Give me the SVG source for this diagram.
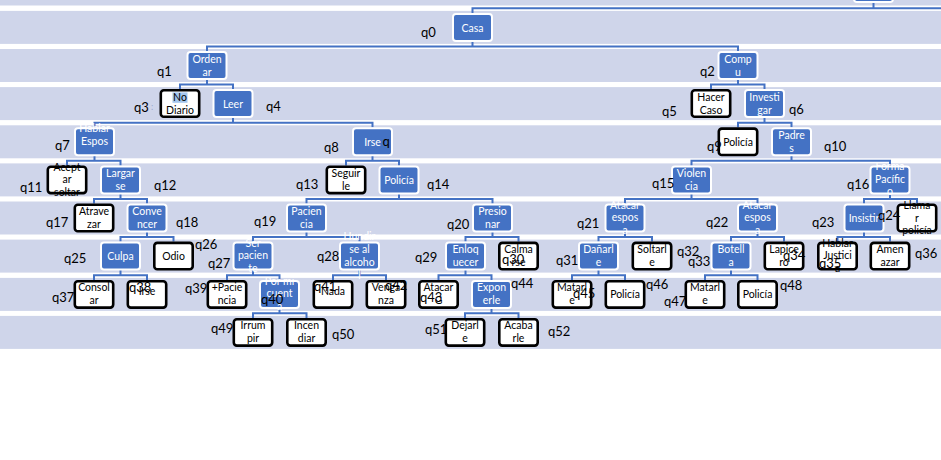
<svg xmlns="http://www.w3.org/2000/svg" width="941" height="460" viewBox="0 0 941 460">
<style>
  .band{fill:#CFD5EA}
  .nb rect{fill:#4472C4;stroke:#fff;stroke-width:2}
  .nw rect{fill:#fff;stroke:#000;stroke-width:2.6}
  .nw rect.hl{fill:#A5C6EE;stroke:none}
  text{font-family:Lato,"Liberation Sans",sans-serif}
  .t{font-size:10.5px;text-anchor:middle}
  .nb .t{fill:#fff}
  .nw .t{fill:#000}
  .q{font-size:13px;fill:#000}
  .c{fill:none;stroke:#4472C4;stroke-width:2}
</style>
<rect width="941" height="460" fill="#fff"/>
<!-- table rows -->
<g id="rows">
  <rect class="band" x="0" y="0" width="941" height="5.5"/>
  <rect class="band" x="0" y="10.9" width="941" height="33"/>
  <rect class="band" x="0" y="49" width="941" height="33"/>
  <rect class="band" x="0" y="87.1" width="941" height="33"/>
  <rect class="band" x="0" y="125.3" width="941" height="33"/>
  <rect class="band" x="0" y="163.4" width="941" height="33"/>
  <rect class="band" x="0" y="201.5" width="941" height="33"/>
  <rect class="band" x="0" y="239.6" width="941" height="33"/>
  <rect class="band" x="0" y="277.9" width="941" height="33"/>
  <rect class="band" x="0" y="315.9" width="941" height="33"/>
</g>
<!-- connectors -->
<g id="connectors" class="c">
  <path d="M873.5 2 V8.3 M941 8.3 H472.5 V13"/>
  <path d="M472.5 41 V46.4 M207 51 V46.4 H738 V51"/>
  <path d="M207 79 V84.5 M180 89 V84.5 H233 V89"/>
  <path d="M738 79 V84.5 M711 89 V84.5 H764.5 V89"/>
  <path d="M233 117 V122.7 M94.5 127.3 V122.7 H372.5 V127.3"/>
  <path d="M764.5 117 V122.7 M738 127.3 V122.7 H791.5 V127.3"/>
  <path d="M94.5 155 V160.8 M67 165.4 V160.8 H120.5 V165.4"/>
  <path d="M372.5 155 V160.8 M346 165.4 V160.8 H399 V165.4"/>
  <path d="M791.5 155 V160.8 M691.5 165.4 V160.8 H890 V165.4"/>
  <path d="M120.5 193 V198.9 M94 203.5 V198.9 H147 V203.5"/>
  <path d="M399 193 V198.9 M306.5 203.5 V198.9 H492.5 V203.5"/>
  <path d="M691.5 193 V198.9 M625 203.5 V198.9 H757.5 V203.5"/>
  <path d="M890 193 V198.9 M864 203.5 V198.9 H917 V203.5"/>
  <path d="M147 231.5 V237 M120.5 241.6 V237 H173.5 V241.6"/>
  <path d="M306.5 231.5 V237 M253 241.6 V237 H359.5 V241.6"/>
  <path d="M492.5 231.5 V237 M465.5 241.6 V237 H518.5 V241.6"/>
  <path d="M625 231.5 V237 M598.5 241.6 V237 H652 V241.6"/>
  <path d="M757.5 231.5 V237 M731 241.6 V237 H784 V241.6"/>
  <path d="M864 231.5 V237 M837.5 241.6 V237 H890 V241.6"/>
  <path d="M120.5 269.5 V275.3 M94 279.9 V275.3 H147 V279.9"/>
  <path d="M253 269.5 V275.3 M227 279.9 V275.3 H279.5 V279.9"/>
  <path d="M359.5 269.5 V275.3 M333 279.9 V275.3 H386 V279.9"/>
  <path d="M465.5 269.5 V275.3 M438.5 279.9 V275.3 H491.5 V279.9"/>
  <path d="M598.5 269.5 V275.3 M572 279.9 V275.3 H625 V279.9"/>
  <path d="M731 269.5 V275.3 M705 279.9 V275.3 H757.5 V279.9"/>
  <path d="M279.5 308 V313.3 M253 317.9 V313.3 H306.5 V317.9"/>
  <path d="M491.5 308 V313.3 M465 317.9 V313.3 H518.5 V317.9"/>
</g>
<!-- nodes -->
<g id="nodes">
  <g id="n-top" class="nb" transform="translate(853,-26)"><rect x="1" y="1" width="39" height="27" rx="3"/></g>
  <g id="n-casa" class="nb" transform="translate(452,13)"><rect x="1" y="1" width="39" height="27" rx="3"/><text class="t" x="20.5" y="18.5">Casa</text></g>

  <g id="n-ordenar" class="nb" transform="translate(186.5,51)"><rect x="1" y="1" width="39" height="27" rx="3"/><text class="t"><tspan x="20.5" y="11.5">Orden</tspan><tspan x="20.5" y="24.5">ar</tspan></text></g>
  <g id="n-compu" class="nb" transform="translate(717.5,51)"><rect x="1" y="1" width="39" height="27" rx="3"/><text class="t"><tspan x="20.5" y="11.5">Comp</tspan><tspan x="20.5" y="24.5">u</tspan></text></g>

  <g id="n-nodiario" class="nw" transform="translate(159.5,89)"><rect x="1.3" y="1.3" width="38.4" height="26.4" rx="3"/><rect class="hl" x="13" y="3.4" width="15" height="10.4"/><text class="t"><tspan x="20.5" y="11.5">No</tspan><tspan x="20.5" y="24.5">Diario</tspan></text></g>
  <g id="n-leer" class="nb" transform="translate(212.5,89)"><rect x="1" y="1" width="39" height="27" rx="3"/><text class="t" x="20.5" y="18.5">Leer</text></g>
  <g id="n-hacercaso" class="nw" transform="translate(690.5,89)"><rect x="1.3" y="1.3" width="38.4" height="26.4" rx="3"/><text class="t"><tspan x="20.5" y="11.5">Hacer</tspan><tspan x="20.5" y="24.5">Caso</tspan></text></g>
  <g id="n-investigar" class="nb" transform="translate(744,89)"><rect x="1" y="1" width="39" height="27" rx="3"/><text class="t"><tspan x="20.5" y="11.5">Investi</tspan><tspan x="20.5" y="24.5">gar</tspan></text></g>

  <g id="n-hablaresposa" class="nb" transform="translate(74,127.3)"><rect x="1" y="1" width="39" height="27" rx="3"/><text class="t"><tspan x="20.5" y="5">Hablar</tspan><tspan x="20.5" y="17.5">Espos</tspan></text></g>
  <g id="n-irseq" class="nb" transform="translate(352,127.3)"><rect x="1" y="1" width="39" height="27" rx="3"/><text class="t" x="20.5" y="18.5">Irse</text><text x="30.5" y="18.5" class="q">q</text></g>
  <g id="n-policia9" class="nw" transform="translate(717.5,127.3)"><rect x="1.3" y="1.3" width="38.4" height="26.4" rx="3"/><text class="t" x="20.5" y="18.5">Policía</text></g>
  <g id="n-padres" class="nb" transform="translate(771,127.3)"><rect x="1" y="1" width="39" height="27" rx="3"/><text class="t"><tspan x="20.5" y="11.5">Padre</tspan><tspan x="20.5" y="24.5">s</tspan></text></g>

  <g id="n-aceptar" class="nw" transform="translate(46.5,165.4)"><rect x="1.3" y="1.3" width="38.4" height="26.4" rx="3"/><text class="t"><tspan x="20.5" y="5.5">Acept</tspan><tspan x="20.5" y="18">ar</tspan><tspan x="20.5" y="30.5">soltar</tspan></text></g>
  <g id="n-largarse" class="nb" transform="translate(100,165.4)"><rect x="1" y="1" width="39" height="27" rx="3"/><text class="t"><tspan x="20.5" y="11.5">Largar</tspan><tspan x="20.5" y="24.5">se</tspan></text></g>
  <g id="n-seguirle" class="nw" transform="translate(325.5,165.4)"><rect x="1.3" y="1.3" width="38.4" height="26.4" rx="3"/><text class="t"><tspan x="20.5" y="11.5">Seguir</tspan><tspan x="20.5" y="24.5">le</tspan></text></g>
  <g id="n-policia14" class="nb" transform="translate(378.5,165.4)"><rect x="1" y="1" width="39" height="27" rx="3"/><text class="t" x="20.5" y="18.5">Policía</text></g>
  <g id="n-violencia" class="nb" transform="translate(671,165.4)"><rect x="1" y="1" width="39" height="27" rx="3"/><text class="t"><tspan x="20.5" y="11.5">Violen</tspan><tspan x="20.5" y="24.5">cia</tspan></text></g>
  <g id="n-formapacifico" class="nb" transform="translate(869.5,165.4)"><rect x="1" y="1" width="39" height="27" rx="3"/><text class="t"><tspan x="20.5" y="5">Forma</tspan><tspan x="20.5" y="17.5">Pacífic</tspan><tspan x="20.5" y="30">o</tspan></text></g>

  <g id="n-atravezar" class="nw" transform="translate(73.5,203.5)"><rect x="1.3" y="1.3" width="38.4" height="26.4" rx="3"/><text class="t"><tspan x="20.5" y="11.5">Atrave</tspan><tspan x="20.5" y="24.5">zar</tspan></text></g>
  <g id="n-convencer" class="nb" transform="translate(126.5,203.5)"><rect x="1" y="1" width="39" height="27" rx="3"/><text class="t"><tspan x="20.5" y="11.5">Conve</tspan><tspan x="20.5" y="24.5">ncer</tspan></text></g>
  <g id="n-paciencia" class="nb" transform="translate(286,203.5)"><rect x="1" y="1" width="39" height="27" rx="3"/><text class="t"><tspan x="20.5" y="11.5">Pacien</tspan><tspan x="20.5" y="24.5">cia</tspan></text></g>
  <g id="n-presionar" class="nb" transform="translate(472,203.5)"><rect x="1" y="1" width="39" height="27" rx="3"/><text class="t"><tspan x="20.5" y="11.5">Presio</tspan><tspan x="20.5" y="24.5">nar</tspan></text></g>
  <g id="n-atacar21" class="nb" transform="translate(604.5,203.5)"><rect x="1" y="1" width="39" height="27" rx="3"/><text class="t"><tspan x="20.5" y="5">Atacar</tspan><tspan x="20.5" y="17.5">espos</tspan><tspan x="20.5" y="30">a</tspan></text></g>
  <g id="n-atacar22" class="nb" transform="translate(737,203.5)"><rect x="1" y="1" width="39" height="27" rx="3"/><text class="t"><tspan x="20.5" y="5">Atacar</tspan><tspan x="20.5" y="17.5">espos</tspan><tspan x="20.5" y="30">a</tspan></text></g>
  <g id="n-insistir" class="nb" transform="translate(843.5,203.5)"><rect x="1" y="1" width="39" height="27" rx="3"/><text class="t" x="20.5" y="18.5">Insistir</text></g>
  <g id="n-llamar" class="nw" transform="translate(896.5,203.5)"><rect x="1.3" y="1.3" width="38.4" height="26.4" rx="3"/><text class="t"><tspan x="20.5" y="5">Llama</tspan><tspan x="20.5" y="18">r</tspan><tspan x="20.5" y="30.5">policía</tspan></text></g>

  <g id="n-culpa" class="nb" transform="translate(100,241.6)"><rect x="1" y="1" width="39" height="27" rx="3"/><text class="t" x="20.5" y="18.5">Culpa</text></g>
  <g id="n-odio" class="nw" transform="translate(153,241.6)"><rect x="1.3" y="1.3" width="38.4" height="26.4" rx="3"/><text class="t" x="20.5" y="18.5">Odio</text></g>
  <g id="n-serpaciente" class="nb" transform="translate(232.5,241.6)"><rect x="1" y="1" width="39" height="27" rx="3"/><text class="t"><tspan x="20.5" y="5">Ser</tspan><tspan x="20.5" y="17.5">pacien</tspan><tspan x="20.5" y="30">te</tspan></text></g>
  <g id="n-hundirse" class="nb" transform="translate(339,241.6)"><rect x="1" y="1" width="39" height="27" rx="3"/><text class="t"><tspan x="20.5" y="-1.5">Hundir</tspan><tspan x="20.5" y="11.5">se al</tspan><tspan x="20.5" y="24.5">alcoho</tspan><tspan x="20.5" y="37.5">l</tspan></text></g>
  <g id="n-enloquecer" class="nb" transform="translate(445,241.6)"><rect x="1" y="1" width="39" height="27" rx="3"/><text class="t"><tspan x="20.5" y="11.5">Enloq</tspan><tspan x="20.5" y="24.5">uecer</tspan></text></g>
  <g id="n-calmarse" class="nw" transform="translate(498,241.6)"><rect x="1.3" y="1.3" width="38.4" height="26.4" rx="3"/><text class="t"><tspan x="20.5" y="11.5">Calma</tspan><tspan x="20.5" y="24.5">rse</tspan></text></g>
  <g id="n-danarle" class="nb" transform="translate(578,241.6)"><rect x="1" y="1" width="39" height="27" rx="3"/><text class="t"><tspan x="20.5" y="11.5">Dañarl</tspan><tspan x="20.5" y="24.5">e</tspan></text></g>
  <g id="n-soltarle" class="nw" transform="translate(631.5,241.6)"><rect x="1.3" y="1.3" width="38.4" height="26.4" rx="3"/><text class="t"><tspan x="20.5" y="11.5">Soltarl</tspan><tspan x="20.5" y="24.5">e</tspan></text></g>
  <g id="n-botella" class="nb" transform="translate(710.5,241.6)"><rect x="1" y="1" width="39" height="27" rx="3"/><text class="t"><tspan x="20.5" y="11.5">Botell</tspan><tspan x="20.5" y="24.5">a</tspan></text></g>
  <g id="n-lapicero" class="nw" transform="translate(763.5,241.6)"><rect x="1.3" y="1.3" width="38.4" height="26.4" rx="3"/><text class="t"><tspan x="20.5" y="11.5">Lapice</tspan><tspan x="20.5" y="24.5">ro</tspan></text></g>
  <g id="n-hablarjusticia" class="nw" transform="translate(817,241.6)"><rect x="1.3" y="1.3" width="38.4" height="26.4" rx="3"/><text class="t"><tspan x="20.5" y="5">Hablar</tspan><tspan x="20.5" y="17.5">Justici</tspan><tspan x="20.5" y="30">a</tspan></text></g>
  <g id="n-amenazar" class="nw" transform="translate(869.5,241.6)"><rect x="1.3" y="1.3" width="38.4" height="26.4" rx="3"/><text class="t"><tspan x="20.5" y="11.5">Amen</tspan><tspan x="20.5" y="24.5">azar</tspan></text></g>

  <g id="n-consolar" class="nw" transform="translate(73.5,279.9)"><rect x="1.3" y="1.3" width="38.4" height="26.4" rx="3"/><text class="t"><tspan x="20.5" y="11.5">Consol</tspan><tspan x="20.5" y="24.5">ar</tspan></text></g>
  <g id="n-irse38" class="nw" transform="translate(126.5,279.9)"><rect x="1.3" y="1.3" width="38.4" height="26.4" rx="3"/><text class="t" x="20.5" y="15.5">Irse</text></g>
  <g id="n-maspaciencia" class="nw" transform="translate(206.5,279.9)"><rect x="1.3" y="1.3" width="38.4" height="26.4" rx="3"/><text class="t"><tspan x="20.5" y="11.5">+Pacie</tspan><tspan x="20.5" y="24.5">ncia</tspan></text></g>
  <g id="n-pormicuenta" class="nb" transform="translate(259,279.9)"><rect x="1" y="1" width="39" height="27" rx="3"/><text class="t"><tspan x="20.5" y="5">Por mi</tspan><tspan x="20.5" y="17.5">cuent</tspan><tspan x="20.5" y="30">a</tspan></text></g>
  <g id="n-nada" class="nw" transform="translate(312.5,279.9)"><rect x="1.3" y="1.3" width="38.4" height="26.4" rx="3"/><text class="t" x="20.5" y="15.5">Nada</text></g>
  <g id="n-venganza" class="nw" transform="translate(365.5,279.9)"><rect x="1.3" y="1.3" width="38.4" height="26.4" rx="3"/><text class="t"><tspan x="20.5" y="11.5">Venga</tspan><tspan x="20.5" y="24.5">nza</tspan></text></g>
  <g id="n-atacarg" class="nw" transform="translate(418,279.9)"><rect x="1.3" y="1.3" width="38.4" height="26.4" rx="3"/><text class="t"><tspan x="20.5" y="11.5">Atacar</tspan><tspan x="20.5" y="24.5">G</tspan></text></g>
  <g id="n-exponerle" class="nb" transform="translate(471,279.9)"><rect x="1" y="1" width="39" height="27" rx="3"/><text class="t"><tspan x="20.5" y="11.5">Expon</tspan><tspan x="20.5" y="24.5">erle</tspan></text></g>
  <g id="n-matarle45" class="nw" transform="translate(551.5,279.9)"><rect x="1.3" y="1.3" width="38.4" height="26.4" rx="3"/><text class="t"><tspan x="20.5" y="11.5">Matarl</tspan><tspan x="20.5" y="24.5">e</tspan></text></g>
  <g id="n-policia46" class="nw" transform="translate(604.5,279.9)"><rect x="1.3" y="1.3" width="38.4" height="26.4" rx="3"/><text class="t" x="20.5" y="18.5">Policía</text></g>
  <g id="n-matarle47" class="nw" transform="translate(684.5,279.9)"><rect x="1.3" y="1.3" width="38.4" height="26.4" rx="3"/><text class="t"><tspan x="20.5" y="11.5">Matarl</tspan><tspan x="20.5" y="24.5">e</tspan></text></g>
  <g id="n-policia48" class="nw" transform="translate(737,279.9)"><rect x="1.3" y="1.3" width="38.4" height="26.4" rx="3"/><text class="t" x="20.5" y="18.5">Policía</text></g>

  <g id="n-irrumpir" class="nw" transform="translate(232.5,317.9)"><rect x="1.3" y="1.3" width="38.4" height="26.4" rx="3"/><text class="t"><tspan x="20.5" y="11.5">Irrum</tspan><tspan x="20.5" y="24.5">pir</tspan></text></g>
  <g id="n-incendiar" class="nw" transform="translate(286,317.9)"><rect x="1.3" y="1.3" width="38.4" height="26.4" rx="3"/><text class="t"><tspan x="20.5" y="11.5">Incen</tspan><tspan x="20.5" y="24.5">diar</tspan></text></g>
  <g id="n-dejarle" class="nw" transform="translate(444.5,317.9)"><rect x="1.3" y="1.3" width="38.4" height="26.4" rx="3"/><text class="t"><tspan x="20.5" y="11.5">Dejarl</tspan><tspan x="20.5" y="24.5">e</tspan></text></g>
  <g id="n-acabarle" class="nw" transform="translate(498,317.9)"><rect x="1.3" y="1.3" width="38.4" height="26.4" rx="3"/><text class="t"><tspan x="20.5" y="11.5">Acaba</tspan><tspan x="20.5" y="24.5">rle</tspan></text></g>
</g>
<!-- state labels -->
<g id="labels">
  <text class="q" x="421" y="37">q0</text>
  <text class="q" x="157" y="76">q1</text>
  <text class="q" x="700" y="76">q2</text>
  <text class="q" x="134" y="112">q3</text>
  <text x="151" y="110" font-size="9" fill="#9AA9CC">:</text>
  <text class="q" x="266" y="111">q4</text>
  <text class="q" x="662" y="116">q5</text>
  <text class="q" x="789" y="114">q6</text>
  <text class="q" x="55" y="150">q7</text>
  <text class="q" x="324" y="152">q8</text>
  <text class="q" x="707" y="151">q9</text>
  <text class="q" x="824" y="151">q10</text>
  <text class="q" x="20" y="192">q11</text>
  <text class="q" x="154" y="190">q12</text>
  <text class="q" x="296" y="189">q13</text>
  <text class="q" x="427" y="189">q14</text>
  <text class="q" x="652" y="188">q15</text>
  <text class="q" x="847" y="189">q16</text>
  <text class="q" x="46" y="227">q17</text>
  <text class="q" x="176" y="227">q18</text>
  <text class="q" x="254" y="226">q19</text>
  <text class="q" x="447" y="229">q20</text>
  <text class="q" x="577" y="228">q21</text>
  <text class="q" x="706" y="227">q22</text>
  <text class="q" x="812" y="227">q23</text>
  <text class="q" x="878" y="220">q24</text>
  <text class="q" x="64" y="263">q25</text>
  <text class="q" x="195" y="249">q26</text>
  <text class="q" x="208" y="268">q27</text>
  <text class="q" x="317" y="261">q28</text>
  <text class="q" x="415" y="262">q29</text>
  <text class="q" x="502" y="264">q30</text>
  <text class="q" x="556" y="265">q31</text>
  <text class="q" x="677" y="256">q32</text>
  <text class="q" x="688" y="266">q33</text>
  <text class="q" x="783" y="260">q34</text>
  <text class="q" x="819" y="268">q35</text>
  <text class="q" x="915" y="258">q36</text>
  <text class="q" x="52" y="302">q37</text>
  <text class="q" x="129" y="292">q38</text>
  <text class="q" x="185" y="293">q39</text>
  <text class="q" x="261" y="304">q40</text>
  <text class="q" x="314" y="291">q41</text>
  <text class="q" x="385" y="290">q42</text>
  <text class="q" x="420" y="302">q43</text>
  <text class="q" x="511" y="288">q44</text>
  <text class="q" x="573" y="298">q45</text>
  <text class="q" x="646" y="289">q46</text>
  <text class="q" x="664" y="306">q47</text>
  <text class="q" x="780" y="290">q48</text>
  <text class="q" x="211" y="333">q49</text>
  <text class="q" x="332" y="339">q50</text>
  <text class="q" x="425" y="334">q51</text>
  <text class="q" x="548" y="336">q52</text>
</g>
</svg>
